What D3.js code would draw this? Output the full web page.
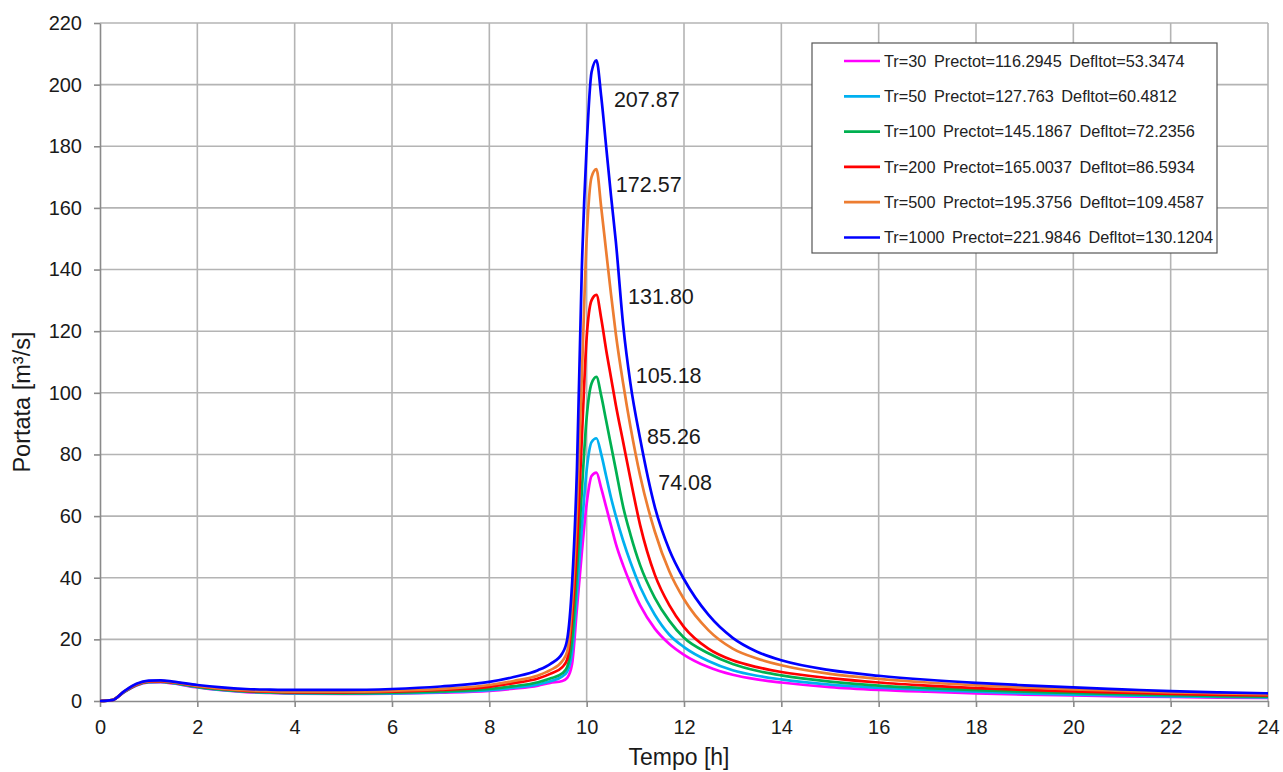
<!DOCTYPE html>
<html>
<head>
<meta charset="utf-8">
<script src="https://cdn.jsdelivr.net/npm/d3@7"></script>
<style>
    body { margin: 0; background: #fff; }
    svg { font-family: "Liberation Sans", Arial, sans-serif; }
    .grid line { stroke: #b4b4b4; stroke-width: 1.6; }
    .axis path, .axis line { stroke: #8a8a8a; stroke-width: 1.6; }
    .axis text { font-size: 20px; fill: #1a1a1a; }
</style>
</head>
<body>
<script>
// time [h]
var tempo = [0, 0.25, 0.5, 0.75, 1, 1.25, 1.5, 2, 2.5, 3, 3.5, 4, 5, 6, 7, 8, 8.5, 9, 9.25,
    9.5, 9.6, 9.7, 9.8, 9.9, 10, 10.1, 10.2, 10.3, 10.4, 10.5, 10.6, 10.75, 10.9, 11.1, 11.4, 11.7,
    12, 12.5, 13, 13.5, 14, 15, 16, 17, 18, 19, 20, 21, 22, 23, 24];

// portata [m3/s] for each return period
var q30 = [0, 0.3, 2.9, 5.0, 6.0, 6.1, 5.7, 4.4, 3.5, 2.9, 2.6, 2.4, 2.3, 2.4, 2.7, 3.3, 4.0, 5.0, 5.9,
    6.5, 7.5, 12, 30, 48, 64, 73, 74.08, 69, 63, 57, 51, 44, 38, 31, 23.5, 18.5,
    15, 11, 8.5, 7, 6, 4.5, 3.6, 3.0, 2.5, 2.1, 1.8, 1.5, 1.3, 1.1, 1.0];
var q50 = [0, 0.3, 3.0, 5.1, 6.1, 6.2, 5.8, 4.5, 3.6, 3.0, 2.7, 2.5, 2.4, 2.5, 2.9, 3.5, 4.3, 5.4, 6.4,
    8, 9.5, 16, 35, 56, 75, 84, 85.26, 80, 73, 66, 60, 52, 45, 37, 28, 21.5,
    17.5, 13, 10, 8.2, 7, 5.3, 4.3, 3.6, 3.0, 2.5, 2.1, 1.8, 1.5, 1.3, 1.2];
var q100 = [0, 0.3, 3.0, 5.2, 6.2, 6.3, 5.9, 4.6, 3.7, 3.1, 2.8, 2.6, 2.5, 2.7, 3.1, 3.9, 4.8, 6.1, 7.3,
    9, 11, 20, 42, 68, 92, 103, 105.18, 99, 91, 83, 75, 63, 54, 44, 33.5, 26,
    20.5, 15.5, 12, 9.8, 8.3, 6.3, 5.0, 4.2, 3.5, 3.0, 2.6, 2.2, 1.9, 1.6, 1.4];
var q200 = [0, 0.3, 3.1, 5.3, 6.3, 6.4, 6.0, 4.8, 3.9, 3.3, 3.0, 2.8, 2.8, 3.0, 3.6, 4.6, 5.8, 7.3, 8.8,
    11, 13.5, 27, 50, 85, 118, 130, 131.8, 124, 114, 105, 96, 84, 72, 57, 41, 31,
    24, 17, 13.2, 11, 9.4, 7.4, 6.0, 5.0, 4.2, 3.6, 3.1, 2.7, 2.3, 2.0, 1.8];
var q500 = [0, 0.3, 3.1, 5.4, 6.4, 6.5, 6.1, 4.9, 4.0, 3.5, 3.2, 3.0, 3.0, 3.3, 3.9, 5.2, 6.5, 8.3, 10,
    13, 16, 32, 62, 105, 150, 170, 172.57, 160, 146, 132, 119, 103, 89, 73, 55, 42,
    33, 23, 17, 13.8, 11.6, 8.8, 7.2, 6.0, 5.1, 4.4, 3.8, 3.3, 2.8, 2.5, 2.2];
var q1000 = [0, 0.3, 3.2, 5.6, 6.6, 6.7, 6.3, 5.2, 4.4, 3.9, 3.7, 3.6, 3.6, 3.9, 4.7, 6.2, 7.8, 10, 12,
    15.5, 20, 38, 75, 140, 180, 204, 207.87, 196, 180, 164, 149, 122, 103, 85, 63, 49,
    39.5, 28, 20.5, 16, 13.2, 10, 8.2, 6.9, 5.9, 5.1, 4.4, 3.8, 3.2, 2.8, 2.5];

var legendLabels = [
    "Tr=30 Prectot=116.2945 Defltot=53.3474",
    "Tr=50 Prectot=127.763 Defltot=60.4812",
    "Tr=100 Prectot=145.1867 Defltot=72.2356",
    "Tr=200 Prectot=165.0037 Defltot=86.5934",
    "Tr=500 Prectot=195.3756 Defltot=109.4587",
    "Tr=1000 Prectot=221.9846 Defltot=130.1204"
];
var peakLabels = ["74.08", "85.26", "105.18", "131.80", "172.57", "207.87"];
// where the peak labels sit, in data units [t, q]
var peakLabelAt = [[11.47, 71], [11.24, 85.7], [11.01, 105.5], [10.85, 131.1], [10.6, 167.6], [10.56, 195.2]];

var xTicks = d3.range(0, 25, 2);
var yTicks = d3.range(0, 221, 20);

var series = [q30, q50, q100, q200, q500, q1000];
var colors = ["#ff00ff", "#00b0f0", "#00b050", "#ff0000", "#ed7d31", "#0000ff"];

var margin = {top: 23, right: 15, bottom: 71, left: 100},
    width = 1283 - margin.left - margin.right,
    height = 772 - margin.top - margin.bottom;

var svg = d3.select("body").append("svg")
    .attr("width", 1283)
    .attr("height", 772)
    .append("g")
    .attr("transform", "translate(" + margin.left + "," + margin.top + ")");

var x = d3.scaleLinear().domain([0, 24]).range([0, width]);
var y = d3.scaleLinear().domain([0, 220]).range([height, 0]);

// grid
svg.append("g").attr("class", "grid")
    .selectAll("line").data(xTicks.slice(1)).enter().append("line")
    .attr("x1", function(d) { return x(d); }).attr("x2", function(d) { return x(d); })
    .attr("y1", 0).attr("y2", height);
svg.append("g").attr("class", "grid")
    .selectAll("line").data(yTicks.slice(1)).enter().append("line")
    .attr("x1", 0).attr("x2", width)
    .attr("y1", function(d) { return y(d); }).attr("y2", function(d) { return y(d); });

var xAxis = d3.axisBottom(x).tickValues(xTicks).tickSize(6).tickSizeOuter(0).tickPadding(13);
var yAxis = d3.axisLeft(y).tickValues(yTicks).tickSize(6).tickSizeOuter(0).tickPadding(12);

svg.append("g").attr("class", "x axis")
    .attr("transform", "translate(0," + height + ")")
    .call(xAxis);
svg.append("g").attr("class", "y axis")
    .call(yAxis);

svg.append("text")
    .attr("x", x(12) - 5)
    .attr("y", height + 64)
    .attr("text-anchor", "middle")
    .style("font-size", "23px")
    .style("fill", "#1a1a1a")
    .text("Tempo [h]");

svg.append("text")
    .attr("transform", "translate(" + (-70) + "," + (y(97)) + ") rotate(-90)")
    .attr("text-anchor", "middle")
    .style("font-size", "23.5px")
    .style("fill", "#1a1a1a")
    .text("Portata [m³/s]");

// hydrographs
var line = d3.line()
    .x(function(d, i) { return x(tempo[i]); })
    .y(function(d) { return y(d); })
    .curve(d3.curveMonotoneX);

svg.selectAll(".serie")
    .data(series)
    .enter().append("path")
    .attr("class", "serie")
    .attr("d", line)
    .attr("fill", "none")
    .attr("stroke", function(d, i) { return colors[i]; })
    .attr("stroke-width", 2.7)
    .attr("stroke-linejoin", "round");

// peak values
svg.selectAll(".peak")
    .data(peakLabels)
    .enter().append("text")
    .attr("class", "peak")
    .attr("x", function(d, i) { return x(peakLabelAt[i][0]); })
    .attr("y", function(d, i) { return y(peakLabelAt[i][1]); })
    .attr("dy", "0.35em")
    .style("font-size", "21.5px")
    .style("fill", "#1a1a1a")
    .text(function(d) { return d; });

// legend
var legend = svg.append("g")
    .attr("transform", "translate(" + (812 - margin.left) + "," + (43 - margin.top) + ")");
legend.append("rect")
    .attr("width", 405).attr("height", 210)
    .attr("fill", "#fff")
    .attr("stroke", "#555").attr("stroke-width", 1.2);

var rows = legend.selectAll(".row")
    .data(legendLabels)
    .enter().append("g")
    .attr("transform", function(d, i) { return "translate(0," + (18 + i * 35.3) + ")"; });
rows.append("line")
    .attr("x1", 32).attr("x2", 68)
    .attr("stroke", function(d, i) { return colors[i]; })
    .attr("stroke-width", 2.7);
rows.append("text")
    .attr("x", 72)
    .attr("dy", "0.35em")
    .style("font-size", "16.3px")
    .style("word-spacing", "3px")
    .style("fill", "#222")
    .text(function(d) { return d; });
</script>
</body>
</html>
